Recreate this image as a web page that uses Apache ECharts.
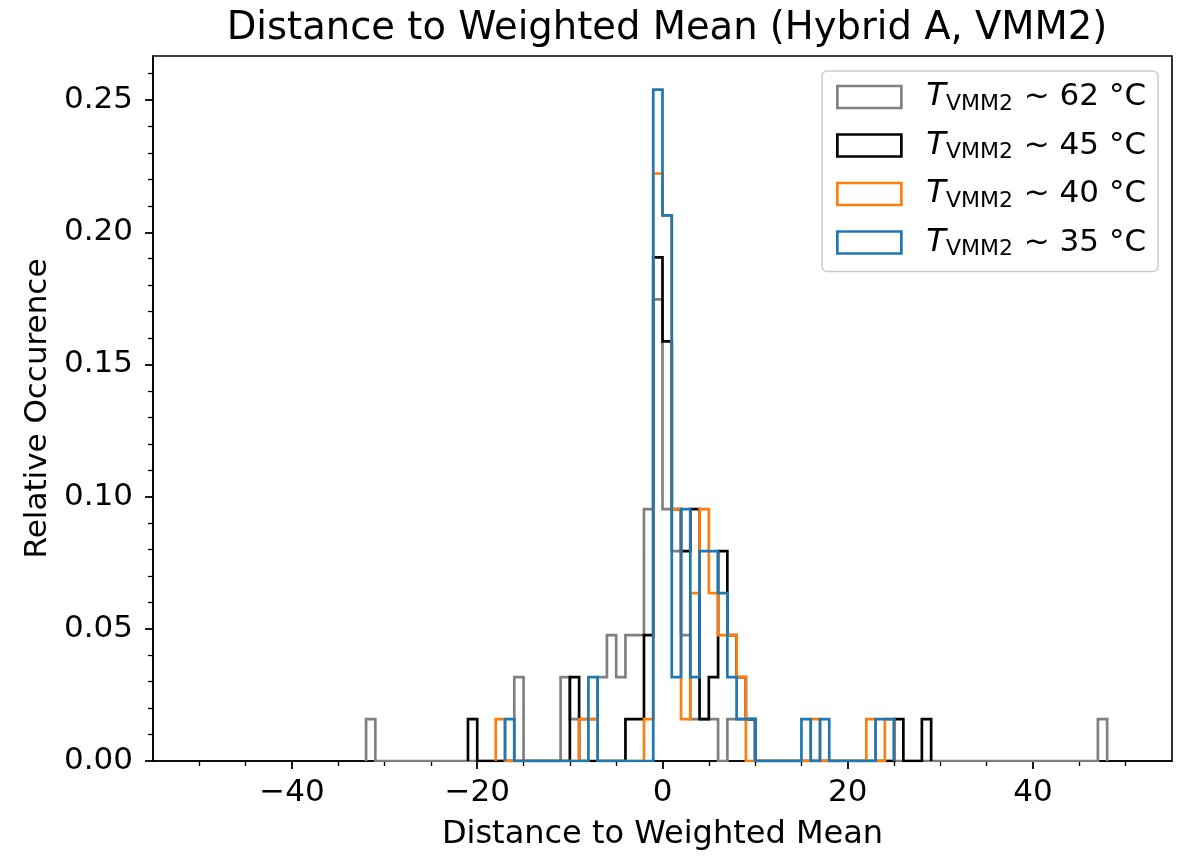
<!DOCTYPE html>
<html>
<head>
<meta charset="utf-8">
<title>Distance to Weighted Mean</title>
<script src="https://cdn.jsdelivr.net/npm/echarts@6/dist/echarts.min.js"></script>
<style>
  html, body { margin: 0; padding: 0; background: #fff; }
  #chart { width: 1178px; height: 856px; }
</style>
</head>
<body>
<div id="chart"></div>
<script>
// histogram counts per 1-unit bin: [left edge of bin, count]
var nEvents = 63;
var temps = ['62', '45', '40', '35'];
var colors = ['#808080', '#000000', '#ff7f0e', '#1f77b4'];

var counts62 = [[-32, 1], [-16, 2], [-11, 2], [-10, 1], [-9, 1], [-8, 1], [-7, 2], [-6, 3], [-5, 2], [-4, 3], [-3, 3],
    [-2, 6], [-1, 11], [0, 6], [1, 5], [2, 3], [3, 1], [4, 1], [5, 1], [7, 1], [8, 1], [9, 1], [47, 1]];
var counts45 = [[-21, 1], [-10, 2], [-4, 1], [-3, 1], [-2, 3], [-1, 12], [0, 10], [1, 6], [2, 5], [3, 6],
    [4, 1], [5, 2], [6, 5], [7, 3], [8, 2], [9, 1], [25, 1], [28, 1]];
var counts40 = [[-18, 1], [-9, 1], [-8, 1], [-2, 1], [-1, 14], [0, 13], [1, 6], [2, 1], [3, 4], [4, 6], [5, 4],
    [6, 3], [7, 3], [8, 2], [16, 1], [22, 1], [24, 1]];
var counts35 = [[-17, 1], [-8, 2], [-1, 16], [0, 13], [1, 2], [2, 6], [3, 2], [4, 5], [5, 5], [6, 4], [7, 2],
    [8, 1], [9, 1], [15, 1], [17, 1], [23, 1], [24, 1]];

var xTicks = [-40, -20, 0, 20, 40];
var xMinorTicks = [-50, -45, -35, -30, -25, -15, -10, -5, 5, 10, 15, 25, 30, 35, 45, 50];
var yTicks = [0, 0.05, 0.10, 0.15, 0.20, 0.25];
var yMinorTicks = [0.01, 0.02, 0.03, 0.04, 0.06, 0.07, 0.08, 0.09, 0.11, 0.12, 0.13, 0.14,
    0.16, 0.17, 0.18, 0.19, 0.21, 0.22, 0.23, 0.24, 0.26];

var FONT = 'DejaVu Sans';

/**
 * 把 [bin, count] 转成阶梯轮廓线 (matplotlib histtype='step')
 */
function stepOutline(list) {
    var map = {};
    var lo = Infinity, hi = -Infinity;
    list.forEach(function (p) {
        map[p[0]] = p[1];
        lo = Math.min(lo, p[0]);
        hi = Math.max(hi, p[0]);
    });
    var pts = [[lo, 0]];
    for (var b = lo; b <= hi; b++) {
        var v = (map[b] || 0) / nEvents;
        pts.push([b, v]);
        pts.push([b + 1, v]);
    }
    pts.push([hi + 1, 0]);
    return pts;
}

var allCounts = [counts62, counts45, counts40, counts35];
var yMax = 16 / nEvents * 1.05;

var series = allCounts.map(function (c, i) {
    return {
        name: 'T' + temps[i],
        type: 'line',
        data: stepOutline(c),
        showSymbol: false,
        symbol: 'none',
        animation: false,
        lineStyle: { color: colors[i], width: 2.7, join: 'miter' },
        itemStyle: { color: colors[i] },
        z: 2 + i
    };
});

var minus = function (v) {
    return v < 0 ? '\u2212' + Math.abs(v) : String(v);
};

var chart = echarts.init(document.getElementById('chart'));
chart.setOption({
    backgroundColor: '#ffffff',
    animation: false,
    title: {
        text: 'Distance to Weighted Mean (Hybrid A, VMM2)',
        left: 662,
        top: 4,
        textAlign: 'center',
        textStyle: { fontFamily: FONT, fontSize: 38.5, fontWeight: 'normal', color: '#000' }
    },
    grid: {
        left: 153, right: 6, top: 56, bottom: 91,
        show: true, borderColor: '#000', borderWidth: 1.6, backgroundColor: 'transparent'
    },
    legend: {
        orient: 'vertical',
        left: 822,
        top: 71,
        padding: [8, 12, 11, 14],
        itemWidth: 64,
        itemHeight: 22,
        itemGap: 12.5,
        backgroundColor: '#fff',
        borderColor: '#cccccc',
        borderWidth: 1.5,
        borderRadius: 5,
        data: series.map(function (s, i) {
            return {
                name: s.name,
                icon: 'rect',
                itemStyle: { color: '#fff', borderColor: colors[i], borderWidth: 2.7 }
            };
        }),
        formatter: function (name) {
            return '{t|T}{s|VMM2}{n| ~ ' + name.slice(1) + ' °C}';
        },
        textStyle: {
            fontFamily: FONT,
            color: '#000',
            rich: {
                t: { fontFamily: FONT, fontSize: 32, lineHeight: 36, fontStyle: 'italic', padding: [0, 0, 0, 20] },
                s: { fontFamily: FONT, fontSize: 22, lineHeight: 22, verticalAlign: 'bottom', padding: [14, 1, 0, 0] },
                n: { fontFamily: FONT, fontSize: 31, lineHeight: 36 }
            }
        }
    },
    xAxis: [{
        type: 'value',
        min: -55,
        max: 55,
        name: 'Distance to Weighted Mean',
        nameLocation: 'middle',
        nameGap: 58,
        nameTextStyle: { fontFamily: FONT, fontSize: 32, color: '#000' },
        axisLine: { show: true, onZero: false, lineStyle: { color: '#000', width: 1.6 } },
        axisTick: { show: true, customValues: xTicks, length: 8, lineStyle: { color: '#000', width: 1.8 } },
        axisLabel: {
            customValues: xTicks, margin: 16, fontFamily: FONT, fontSize: 31, color: '#000',
            formatter: minus
        },
        splitLine: { show: false }
    }, {
        type: 'value',
        min: -55,
        max: 55,
        position: 'bottom',
        axisLine: { show: false, onZero: false },
        axisTick: { show: true, customValues: xMinorTicks, length: 5, lineStyle: { color: '#000', width: 1.3 } },
        axisLabel: { show: false },
        splitLine: { show: false }
    }],
    yAxis: [{
        type: 'value',
        min: 0,
        max: yMax,
        name: 'Relative Occurence',
        nameLocation: 'middle',
        nameGap: 100,
        nameTextStyle: { fontFamily: FONT, fontSize: 31, color: '#000' },
        axisLine: { show: true, onZero: false, lineStyle: { color: '#000', width: 1.6 } },
        axisTick: { show: true, customValues: yTicks, length: 8, lineStyle: { color: '#000', width: 1.8 } },
        axisLabel: {
            customValues: yTicks, margin: 20, fontFamily: FONT, fontSize: 31, color: '#000',
            formatter: function (v) { return v.toFixed(2); }
        },
        splitLine: { show: false }
    }, {
        type: 'value',
        min: 0,
        max: yMax,
        position: 'left',
        axisLine: { show: false, onZero: false },
        axisTick: { show: true, customValues: yMinorTicks, length: 5, lineStyle: { color: '#000', width: 1.3 } },
        axisLabel: { show: false },
        splitLine: { show: false }
    }],
    series: series
});
</script>
</body>
</html>
